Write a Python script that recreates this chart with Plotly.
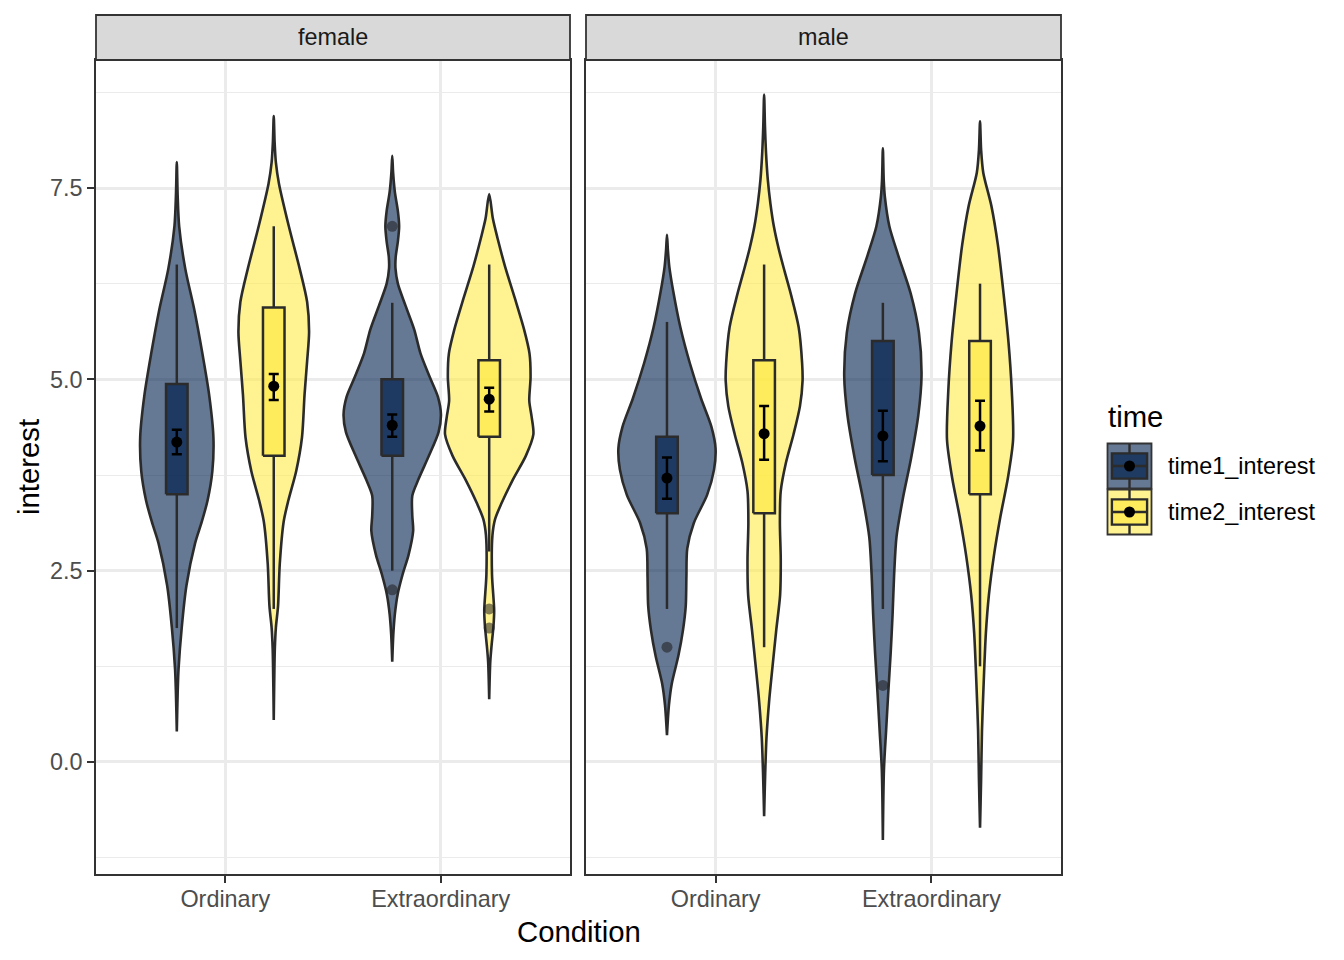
import plotly.graph_objects as go

# ---------------- data ----------------
sexes = ["female", "male"]
conditions = ["Ordinary", "Extraordinary"]
times = ["time1_interest", "time2_interest"]
y_tick_vals = [0, 2.5, 5, 7.5]
y_tick_text = ["0.0", "2.5", "5.0", "7.5"]
y_minor_vals = [-1.25, 1.25, 3.75, 6.25, 8.75]

# violin outlines: interest levels and estimated half-density widths (category units)
fo1_y = [7.84, 7.40, 7.00, 6.45, 5.90, 5.35, 4.80, 4.24, 3.80, 3.42, 3.14, 2.86, 2.31, 1.76, 1.21, 0.90, 0.40]
fo1_w = [0.0, 0.004, 0.011, 0.039, 0.082, 0.118, 0.150, 0.170, 0.165, 0.143, 0.116, 0.085, 0.045, 0.023, 0.008, 0.004, 0.0]
fo2_y = [8.44, 8.10, 7.83, 7.56, 7.00, 6.45, 6.01, 5.62, 5.24, 4.80, 4.24, 3.80, 3.42, 3.14, 2.59, 2.04, 1.76, 1.48, 1.00, 0.55]
fo2_w = [0.0, 0.004, 0.010, 0.024, 0.070, 0.120, 0.155, 0.164, 0.155, 0.143, 0.131, 0.104, 0.068, 0.046, 0.028, 0.020, 0.010, 0.005, 0.002, 0.0]
fe1_y = [7.92, 7.70, 7.45, 7.20, 7.00, 6.80, 6.60, 6.45, 6.25, 5.96, 5.65, 5.34, 5.03, 4.77, 4.54, 4.31, 4.00, 3.69, 3.48, 3.22, 3.02, 2.71, 2.45, 2.19, 1.93, 1.67, 1.31]
fe1_w = [0.0, 0.004, 0.012, 0.026, 0.032, 0.026, 0.016, 0.015, 0.026, 0.062, 0.102, 0.131, 0.174, 0.212, 0.226, 0.215, 0.170, 0.121, 0.093, 0.093, 0.097, 0.076, 0.048, 0.025, 0.012, 0.005, 0.0]
fe2_y = [7.42, 7.10, 6.84, 6.48, 6.06, 5.65, 5.34, 5.03, 4.72, 4.51, 4.28, 4.00, 3.69, 3.38, 3.17, 2.96, 2.45, 1.98, 1.78, 1.52, 1.31, 0.82]
fe2_w = [0.0, 0.017, 0.039, 0.073, 0.119, 0.162, 0.187, 0.192, 0.186, 0.197, 0.205, 0.170, 0.110, 0.057, 0.027, 0.015, 0.013, 0.023, 0.020, 0.011, 0.005, 0.0]
mo1_y = [6.89, 6.70, 6.47, 6.15, 5.68, 5.21, 4.75, 4.38, 4.10, 3.82, 3.49, 3.12, 2.79, 2.42, 2.04, 1.72, 1.39, 1.02, 0.74, 0.35]
mo1_w = [0.0, 0.004, 0.011, 0.029, 0.062, 0.106, 0.158, 0.206, 0.225, 0.218, 0.186, 0.124, 0.094, 0.090, 0.087, 0.074, 0.053, 0.022, 0.009, 0.0]
mo2_y = [8.72, 8.30, 7.95, 7.61, 7.30, 7.00, 6.70, 6.40, 6.10, 5.68, 5.21, 4.98, 4.65, 4.28, 3.91, 3.54, 3.12, 2.65, 2.18, 1.72, 1.25, 0.79, 0.32, -0.15, -0.71]
mo2_w = [0.0, 0.004, 0.009, 0.017, 0.029, 0.045, 0.068, 0.096, 0.125, 0.160, 0.176, 0.178, 0.166, 0.136, 0.101, 0.077, 0.073, 0.077, 0.074, 0.056, 0.039, 0.023, 0.011, 0.005, 0.0]
me1_y = [8.02, 7.60, 7.39, 7.00, 6.62, 6.12, 5.61, 5.04, 4.53, 3.96, 3.45, 2.94, 2.44, 1.93, 1.42, 0.91, 0.41, -0.10, -1.02]
me1_w = [0.0, 0.004, 0.009, 0.030, 0.071, 0.129, 0.167, 0.179, 0.164, 0.130, 0.093, 0.063, 0.052, 0.045, 0.036, 0.025, 0.015, 0.005, 0.0]
me2_y = [8.37, 8.00, 7.70, 7.26, 6.75, 6.12, 5.48, 4.85, 4.21, 3.71, 3.20, 2.69, 2.18, 1.68, 1.04, 0.41, -0.23, -0.86]
me2_w = [0.0, 0.005, 0.015, 0.053, 0.083, 0.109, 0.132, 0.147, 0.153, 0.129, 0.094, 0.064, 0.041, 0.027, 0.017, 0.009, 0.005, 0.0]

# box / summary stats, order: female-Ordinary, female-Extraordinary, male-Ordinary, male-Extraordinary
t1_q1 = [3.50, 4.00, 3.25, 3.75]
t1_q3 = [4.94, 5.00, 4.25, 5.50]
t1_lo = [1.75, 2.50, 2.00, 2.00]
t1_hi = [6.50, 6.00, 5.75, 6.00]
t1_mean = [4.18, 4.40, 3.71, 4.26]
t1_se_lo = [4.02, 4.25, 3.44, 3.93]
t1_se_hi = [4.34, 4.54, 3.98, 4.59]
t2_q1 = [4.00, 4.25, 3.25, 3.50]
t2_q3 = [5.94, 5.25, 5.25, 5.50]
t2_lo = [2.00, 2.75, 1.50, 1.25]
t2_hi = [7.00, 6.50, 6.50, 6.25]
t2_mean = [4.91, 4.74, 4.29, 4.39]
t2_se_lo = [4.73, 4.58, 3.95, 4.07]
t2_se_hi = [5.07, 4.89, 4.65, 4.72]

# outliers
t1_out_cell = [1, 1, 2, 3]
t1_out_val = [7.00, 2.25, 1.50, 1.00]
t2_out_cell = [1, 1]
t2_out_val = [2.00, 1.75]

# ---------------- styling ----------------
FONT = "Liberation Sans, Arial, Helvetica, sans-serif"
violin_fill = ["rgba(0,32,77,0.6)", "rgba(255,234,70,0.6)"]
box_fill = ["rgba(0,32,77,0.7)", "rgba(255,234,70,0.7)"]
line_col = "#2B2B2B"
dodge = [-0.225, 0.225]
box_half = 0.05

viol_y = [[fo1_y, fe1_y, mo1_y, me1_y], [fo2_y, fe2_y, mo2_y, me2_y]]
viol_w = [[fo1_w, fe1_w, mo1_w, me1_w], [fo2_w, fe2_w, mo2_w, me2_w]]
q1s = [t1_q1, t2_q1]
q3s = [t1_q3, t2_q3]
los = [t1_lo, t2_lo]
his = [t1_hi, t2_hi]
means = [t1_mean, t2_mean]
se_los = [t1_se_lo, t2_se_lo]
se_his = [t1_se_hi, t2_se_hi]
out_cells = [t1_out_cell, t2_out_cell]
out_vals = [t1_out_val, t2_out_val]


def cell_axes(cell):
    return ("x", "y") if cell < 2 else ("x2", "y2")


def cell_x(cell, ti):
    return (cell % 2) + 1 + dodge[ti]


fig = go.Figure()

# violins
for ti in range(2):
    for cell in range(4):
        xa, ya = cell_axes(cell)
        xc = cell_x(cell, ti)
        Y = viol_y[ti][cell]
        W = viol_w[ti][cell]
        xs = [xc + w for w in W] + [xc - w for w in W[::-1]]
        ys = list(Y) + list(Y[::-1])
        fig.add_trace(go.Scatter(
            x=xs, y=ys, xaxis=xa, yaxis=ya, mode="lines", fill="toself",
            fillcolor=violin_fill[ti], line=dict(color=line_col, width=2.6, shape="spline", smoothing=0.8),
            hoverinfo="skip", showlegend=False))

# boxplots
for ti in range(2):
    for cell in range(4):
        xa, ya = cell_axes(cell)
        xc = cell_x(cell, ti)
        q1, q3 = q1s[ti][cell], q3s[ti][cell]
        fig.add_trace(go.Scatter(
            x=[xc, xc, None, xc, xc], y=[los[ti][cell], q1, None, q3, his[ti][cell]],
            xaxis=xa, yaxis=ya, mode="lines", line=dict(color=line_col, width=2.5),
            hoverinfo="skip", showlegend=False))
        fig.add_trace(go.Scatter(
            x=[xc - box_half, xc + box_half, xc + box_half, xc - box_half, xc - box_half],
            y=[q1, q1, q3, q3, q1], xaxis=xa, yaxis=ya, mode="lines", fill="toself",
            fillcolor=box_fill[ti], line=dict(color=line_col, width=2.5),
            hoverinfo="skip", showlegend=False))

# outliers
for ti in range(2):
    for cell, v in zip(out_cells[ti], out_vals[ti]):
        xa, ya = cell_axes(cell)
        fig.add_trace(go.Scatter(
            x=[cell_x(cell, ti)], y=[v], xaxis=xa, yaxis=ya, mode="markers",
            marker=dict(color="rgba(30,30,30,0.55)", size=11, line=dict(width=0)),
            hoverinfo="skip", showlegend=False))

# means with error bars
for ti in range(2):
    for cell in range(4):
        xa, ya = cell_axes(cell)
        m = means[ti][cell]
        fig.add_trace(go.Scatter(
            x=[cell_x(cell, ti)], y=[m], xaxis=xa, yaxis=ya, mode="markers",
            marker=dict(color="black", size=11),
            error_y=dict(type="data", symmetric=False, array=[se_his[ti][cell] - m],
                         arrayminus=[m - se_los[ti][cell]], color="black", thickness=2.5, width=5),
            hoverinfo="skip", showlegend=False))

# ---------------- layout ----------------
OFF = 8  # page body margin in the browser
W_PX, H_PX = 1344 - OFF, 960 - OFF
L, R, T, B = 96, 1061, 15, 874  # reference-page pixel positions of the plotting area
PW, PH = R - L, B - T


def px_x(px):
    return (px - L) / PW


def px_y(py):
    return (B - py) / PH


panel_top = 60
fem_dom = [0, px_x(570)]
male_dom = [px_x(586), 1]
y_dom = [0, px_y(panel_top)]

axis_common = dict(
    range=[0.4, 2.6], tickvals=[1, 2], ticktext=conditions, showgrid=True,
    gridcolor="#EBEBEB", gridwidth=2.7, zeroline=False, ticks="outside", ticklen=7,
    tickwidth=2.4, tickcolor="#333333", showline=True, mirror=True, linecolor="#333333",
    linewidth=1.8, tickfont=dict(family=FONT, size=23.4, color="#4D4D4D"), automargin=False,
    fixedrange=True, ticklabelstandoff=-4)
yaxis_common = dict(
    range=[-1.4635, 9.1725], tickvals=y_tick_vals, ticktext=y_tick_text, showgrid=True,
    gridcolor="#EBEBEB", gridwidth=2.7, zeroline=False, showline=True, mirror=True,
    linecolor="#333333", linewidth=1.8, automargin=False, fixedrange=True,
    minor=dict(tickvals=y_minor_vals, showgrid=True, gridcolor="#EBEBEB", gridwidth=1.4, ticks=""))

fig.update_layout(
    width=W_PX, height=H_PX,
    margin=dict(l=L - OFF, r=1344 - R, t=T - OFF, b=960 - B, pad=0),
    plot_bgcolor="white", paper_bgcolor="white", showlegend=False,
    font=dict(family=FONT, color="black"),
    xaxis=dict(domain=fem_dom, anchor="y", **axis_common),
    xaxis2=dict(domain=male_dom, anchor="y2", **axis_common),
    yaxis=dict(domain=y_dom, anchor="x", ticks="outside", ticklen=7, tickwidth=2.4,
               tickcolor="#333333", tickfont=dict(family=FONT, size=23.4, color="#4D4D4D"),
               **yaxis_common),
    yaxis2=dict(domain=y_dom, anchor="x2", matches="y", showticklabels=False, ticks="",
                **yaxis_common),
)

shapes = []
annotations = []

# facet strips
for dom, label in [(fem_dom, sexes[0]), (male_dom, sexes[1])]:
    shapes.append(dict(type="rect", xref="paper", yref="paper", x0=dom[0], x1=dom[1],
                       y0=y_dom[1], y1=1, fillcolor="#D9D9D9",
                       line=dict(color="#333333", width=1.8), layer="above"))
    annotations.append(dict(text=label, xref="paper", yref="paper", x=(dom[0] + dom[1]) / 2,
                            y=(y_dom[1] + 1) / 2, xanchor="center", yanchor="middle", showarrow=False,
                            font=dict(family=FONT, size=23.4, color="#1A1A1A")))

# axis titles
annotations.append(dict(text="interest", xref="paper", yref="paper", x=px_x(28), y=px_y(467),
                        xanchor="center", yanchor="middle", textangle=-90, showarrow=False,
                        font=dict(family=FONT, size=29.3, color="black")))
annotations.append(dict(text="Condition", xref="paper", yref="paper", x=0.5, y=px_y(931),
                        xanchor="center", yanchor="middle", showarrow=False,
                        font=dict(family=FONT, size=29.3, color="black")))

# legend
annotations.append(dict(text="time", xref="paper", yref="paper", x=px_x(1106), y=px_y(416),
                        xanchor="left", yanchor="middle", showarrow=False,
                        font=dict(family=FONT, size=29.3, color="black")))
key_left, key_w, key_h = 1107.5, 44, 45
key_tops = [443.5, 489.5]
key_solid_violin = ["#667994", "#FFF290"]
key_solid_box = ["#1F3B62", "#FFEC5C"]
for ti, t in enumerate(times):
    top = key_tops[ti]
    bot = top + key_h
    cx = key_left + key_w / 2
    cy = top + key_h / 2
    shapes.append(dict(type="rect", xref="paper", yref="paper", x0=px_x(key_left), x1=px_x(key_left + key_w),
                       y0=px_y(bot), y1=px_y(top), fillcolor=key_solid_violin[ti],
                       line=dict(color="#333333", width=1.8), layer="above"))
    shapes.append(dict(type="line", xref="paper", yref="paper", x0=px_x(cx), x1=px_x(cx),
                       y0=px_y(bot - 0.5), y1=px_y(top + 0.5), line=dict(color=line_col, width=2.4), layer="above"))
    shapes.append(dict(type="rect", xref="paper", yref="paper", x0=px_x(key_left + 0.1 * key_w),
                       x1=px_x(key_left + 0.9 * key_w), y0=px_y(top + 0.78 * key_h), y1=px_y(top + 0.22 * key_h),
                       fillcolor=key_solid_box[ti], line=dict(color=line_col, width=2.4), layer="above"))
    shapes.append(dict(type="line", xref="paper", yref="paper", x0=px_x(key_left + 0.1 * key_w),
                       x1=px_x(key_left + 0.9 * key_w), y0=px_y(cy), y1=px_y(cy),
                       line=dict(color=line_col, width=2.4), layer="above"))
    shapes.append(dict(type="circle", xref="paper", yref="paper", x0=px_x(cx - 5.5), x1=px_x(cx + 5.5),
                       y0=px_y(cy + 5.5), y1=px_y(cy - 5.5), fillcolor="black",
                       line=dict(color="black", width=0), layer="above"))
    annotations.append(dict(text=t, xref="paper", yref="paper", x=px_x(1166), y=px_y(cy),
                            xanchor="left", yanchor="middle", showarrow=False,
                            font=dict(family=FONT, size=23.4, color="black")))

fig.update_layout(shapes=shapes, annotations=annotations)
fig.write_html("out.html")
